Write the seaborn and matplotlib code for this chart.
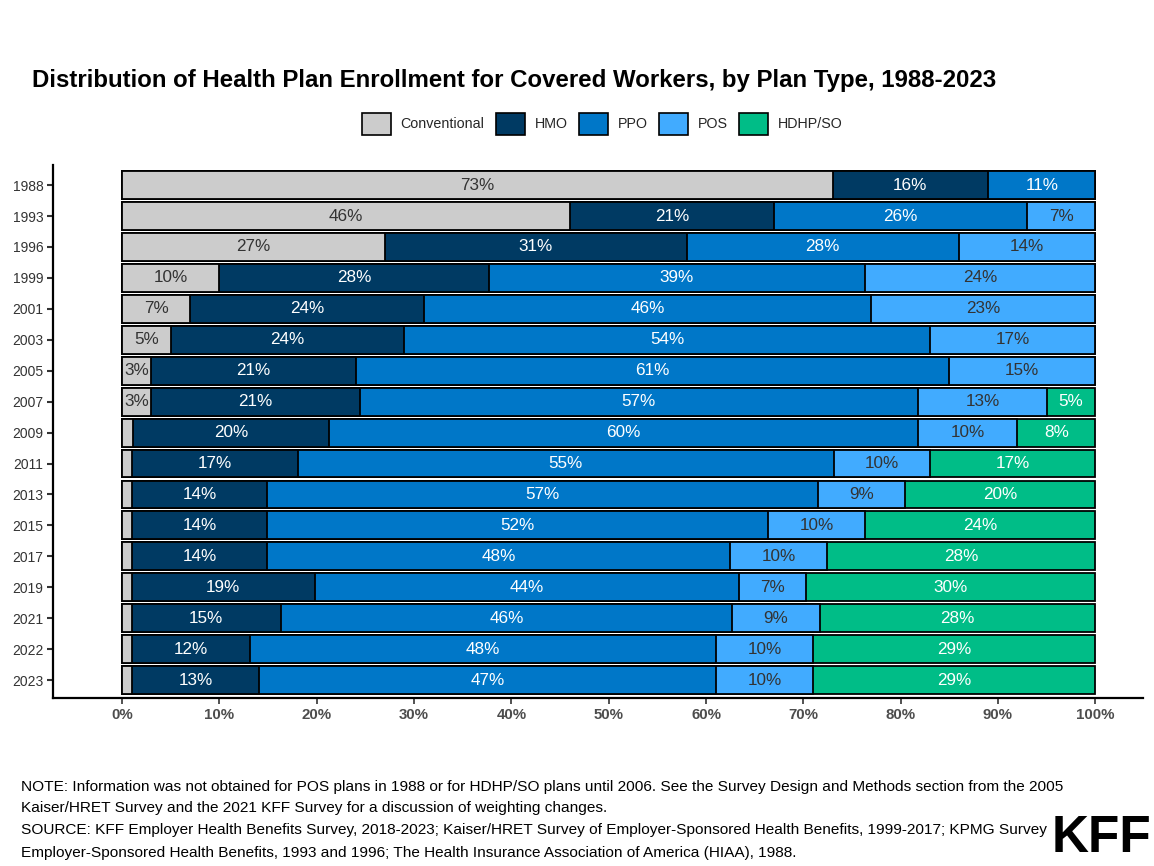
import numpy as np
import pandas as pd
import matplotlib
matplotlib.use("Agg")
import matplotlib.pyplot as plt
import seaborn as sns
from matplotlib.patches import Patch
from matplotlib.ticker import FuncFormatter
from matplotlib import font_manager

years = ["1988", "1993", "1996", "1999", "2001", "2003", "2005", "2007", "2009",
         "2011", "2013", "2015", "2017", "2019", "2021", "2022", "2023"]
conventional = [73, 46, 27, 10, 7, 5, 3, 3, 1.1, 1, 1, 1, 1, 1, 1, 1, 1]
hmo = [16, 21, 31, 27.7, 24, 24, 21, 21.4, 20.2, 17.1, 13.9, 13.9, 13.9, 18.8, 15.3, 12.1, 13.1]
ppo = [11, 26, 28, 38.6, 46, 54, 61, 57.4, 60.5, 55, 56.6, 51.5, 47.6, 43.6, 46.4, 47.9, 46.9]
pos = [0, 7, 14, 23.7, 23, 17, 15, 13.2, 10.2, 9.9, 8.9, 9.9, 9.9, 6.9, 9.0, 10, 10]
hdhp = [0, 0, 0, 0, 0, 0, 0, 5, 8, 17, 19.6, 23.7, 27.6, 29.7, 28.3, 29, 29]

plans = ["Conventional", "HMO", "PPO", "POS", "HDHP/SO"]
series = [conventional, hmo, ppo, pos, hdhp]
colors = ["#CCCCCC", "#003A63", "#0077C8", "#41ABFF", "#00BD87"]
text_colors = ["#333333", "white", "white", "#333333", "white"]

sns.set_theme(style="white")
plt.rcParams["font.family"] = ["Liberation Sans", "DejaVu Sans"]

fig = plt.figure(figsize=(11.54, 8.66), dpi=100)
ax = fig.add_axes([53 / 1154, 1 - 698 / 866, (1143 - 53) / 1154, (698 - 165) / 866])

vals = np.array(series)
cum = np.cumsum(vals, axis=0)

# draw cumulative bars from longest to shortest so each segment shows
for i in range(len(plans) - 1, -1, -1):
    df = pd.DataFrame({"year": years, "value": cum[i]})
    sns.barplot(data=df, y="year", x="value", orient="h", color=colors[i],
                saturation=1, width=0.9, edgecolor="black", linewidth=1.3, ax=ax)

# segment labels
for i in range(len(plans)):
    starts = cum[i] - vals[i]
    for j, y in enumerate(years):
        v = vals[i][j]
        if v >= 2.5:
            ax.text(starts[j] + v / 2, j, f"{round(v):.0f}%", ha="center", va="center",
                    fontsize=12.3, color=text_colors[i])

ax.set_xlim(-7.1, 104.9)
ax.set_ylim(len(years) - 1 + 0.58, -0.65)
ax.set_xticks(np.arange(0, 101, 10))
ax.xaxis.set_major_formatter(FuncFormatter(lambda v, p: f"{v:.0f}%"))
ax.set_xlabel("")
ax.set_ylabel("")
for s in ["top", "right"]:
    ax.spines[s].set_visible(False)
for s in ["left", "bottom"]:
    ax.spines[s].set_color("black")
    ax.spines[s].set_linewidth(1.6)
ax.tick_params(axis="x", length=4, width=1.2, color="#333333", labelsize=10.8,
               labelcolor="#4D4D4D", pad=3, bottom=True)
ax.tick_params(axis="y", length=4, width=1.5, color="#333333", labelsize=10,
               labelcolor="#333333", pad=3, left=True)
for lbl in ax.get_xticklabels():
    lbl.set_fontweight("bold")

fig.text(0.028, 0.907, "Distribution of Health Plan Enrollment for Covered Workers, by Plan Type, 1988-2023",
         fontsize=17.3, fontweight="bold", color="black", ha="left", va="center")

handles = [Patch(facecolor=c, edgecolor="black", linewidth=1.2) for c in colors]
fig.legend(handles, plans, loc="center", bbox_to_anchor=(0.522, 0.857), ncol=5,
           frameon=False, fontsize=10.3, handlelength=2.0, handleheight=2.0,
           handletextpad=0.7, columnspacing=0.8)

notes = [
    "NOTE: Information was not obtained for POS plans in 1988 or for HDHP/SO plans until 2006. See the Survey Design and Methods section from the 2005",
    "Kaiser/HRET Survey and the 2021 KFF Survey for a discussion of weighting changes.",
    "SOURCE: KFF Employer Health Benefits Survey, 2018-2023; Kaiser/HRET Survey of Employer-Sponsored Health Benefits, 1999-2017; KPMG Survey of",
    "Employer-Sponsored Health Benefits, 1993 and 1996; The Health Insurance Association of America (HIAA), 1988.",
]
ys = [787, 808, 830, 853]
for t, yy in zip(notes, ys):
    fig.text(21 / 1154, 1 - yy / 866, t, fontsize=11.1, color="black", ha="left", va="center")

names = {f.name for f in font_manager.fontManager.ttflist}
logo_family = ["Liberation Sans Narrow"] if "Liberation Sans Narrow" in names else ["Liberation Sans"]
fig.text(1151 / 1154, 1 - 839 / 866, "KFF", fontsize=37, fontweight="bold", color="black",
         ha="right", va="center", family=logo_family,
         bbox=dict(facecolor="white", edgecolor="none", pad=1))

fig.savefig("out.png", dpi=100, facecolor="white")
